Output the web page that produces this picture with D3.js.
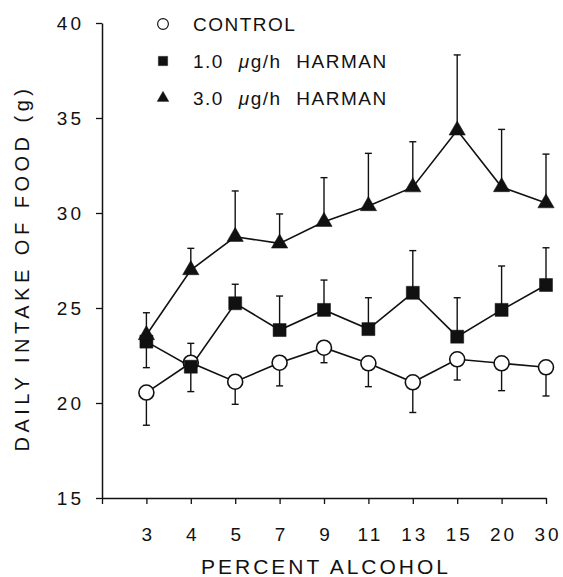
<!DOCTYPE html>
<html>
<head>
<meta charset="utf-8">
<script src="https://cdn.jsdelivr.net/npm/d3@7"></script>
<style>
  body { margin: 0; background: #fff; }
  svg { font-family: "Liberation Sans", "DejaVu Sans", sans-serif; }
</style>
</head>
<body>
<div id="chart"></div>
<script>
// percent alcohol groups (ordinal, evenly spaced)
const categories = ["3", "4", "5", "7", "9", "11", "13", "15", "20", "30"];
const yTicks = [15, 20, 25, 30, 35, 40];

// CONTROL
const controlMean = [20.55, 22.12, 21.12, 22.12, 22.91, 22.09, 21.09, 22.3, 22.09, 21.88];
const controlSE   = [1.72, 1.52, 1.19, 1.22, 0.79, 1.23, 1.59, 1.09, 1.44, 1.51];
const controlDir  = [-1, -1, -1, -1, -1, -1, -1, -1, -1, -1];

// 1.0 ug/h HARMAN
const harman1Mean = [23.23, 21.91, 25.25, 23.84, 24.9, 23.89, 25.8, 23.49, 24.9, 26.21];
const harman1SE   = [1.37, 1.23, 1.0, 1.79, 1.57, 1.65, 2.22, 2.05, 2.31, 1.96];
const harman1Dir  = [-1, 1, 1, 1, 1, 1, 1, 1, 1, 1];

// 3.0 ug/h HARMAN
const harman3Mean = [23.58, 27.0, 28.75, 28.4, 29.54, 30.37, 31.36, 34.35, 31.37, 30.52];
const harman3SE   = [1.17, 1.14, 2.41, 1.55, 2.32, 2.77, 2.39, 3.97, 3.03, 2.58];
const harman3Dir  = [1, 1, 1, 1, 1, 1, 1, 1, 1, 1];

const width = 563, height = 577;

const svg = d3.select("#chart")
    .append("svg")
    .attr("width", width)
    .attr("height", height);

// index 0 is the empty slot at the y axis
const x = d3.scaleLinear().domain([0, categories.length]).range([102, 546]);
const y = d3.scaleLinear().domain([15, 40]).range([498, 23]);

const axisColor = "#111";

// x axis
const xAxis = svg.append("g")
    .attr("transform", `translate(0,${y(15)})`)
    .call(d3.axisBottom(x)
        .tickValues(d3.range(0, categories.length + 1))
        .tickFormat(i => i ? categories[i - 1] : "")
        .tickSize(6)
        .tickSizeOuter(0)
        .tickPadding(24));
xAxis.select(".domain").attr("stroke", axisColor).attr("stroke-width", 1.5);
xAxis.selectAll(".tick line").attr("stroke", axisColor).attr("stroke-width", 1.3);
xAxis.selectAll(".tick text")
    .attr("fill", "#111")
    .attr("dx", "1.5px")
    .style("font-size", "19px")
    .style("letter-spacing", "3px");

// y axis
const yAxis = svg.append("g")
    .attr("transform", `translate(${x(0)},0)`)
    .call(d3.axisLeft(y)
        .tickValues(yTicks)
        .tickSize(6)
        .tickSizeOuter(0)
        .tickPadding(12));
yAxis.select(".domain").attr("stroke", axisColor).attr("stroke-width", 1.5);
yAxis.selectAll(".tick line").attr("stroke", axisColor).attr("stroke-width", 1.3);
yAxis.selectAll(".tick text")
    .attr("fill", "#111")
    .style("font-size", "19px")
    .style("letter-spacing", "3px");

// axis titles
svg.append("text")
    .attr("x", 326)
    .attr("y", 574)
    .attr("text-anchor", "middle")
    .attr("fill", "#111")
    .style("font-size", "21px")
    .style("letter-spacing", "3px")
    .text("PERCENT ALCOHOL");

svg.append("text")
    .attr("transform", "translate(29,268) rotate(-90)")
    .attr("text-anchor", "middle")
    .attr("fill", "#111")
    .style("font-size", "20px")
    .style("letter-spacing", "4.5px")
    .text("DAILY INTAKE OF FOOD (g)");

const series = [
    { mean: controlMean, se: controlSE, dir: controlDir, shape: "circle" },
    { mean: harman1Mean, se: harman1SE, dir: harman1Dir, shape: "square" },
    { mean: harman3Mean, se: harman3SE, dir: harman3Dir, shape: "triangle" }
];

const line = d3.line()
    .x((d, i) => x(i + 1))
    .y(d => y(d));

// connecting lines
svg.append("g")
    .selectAll("path")
    .data(series)
    .join("path")
    .attr("d", s => line(s.mean))
    .attr("fill", "none")
    .attr("stroke", "#111")
    .attr("stroke-width", 1.6);

// error bars
series.forEach(s => {
    const bars = s.mean.map((m, i) => ({ i: i, m: m, end: m + s.dir[i] * s.se[i] }));
    const g = svg.append("g").attr("stroke", "#111").attr("stroke-width", 1.4);
    g.selectAll(".stem")
        .data(bars)
        .join("line")
        .attr("x1", d => x(d.i + 1))
        .attr("x2", d => x(d.i + 1))
        .attr("y1", d => y(d.m))
        .attr("y2", d => y(d.end));
    g.selectAll(".cap")
        .data(bars)
        .join("line")
        .attr("class", "cap")
        .attr("x1", d => x(d.i + 1) - 3.5)
        .attr("x2", d => x(d.i + 1) + 3.5)
        .attr("y1", d => y(d.end))
        .attr("y2", d => y(d.end));
});

const symbolFor = {
    circle: d3.symbol().type(d3.symbolCircle).size(Math.PI * 7.5 * 7.5),
    square: d3.symbol().type(d3.symbolSquare).size(13 * 13),
    triangle: d3.symbol().type(d3.symbolTriangle).size(115)
};

function drawMarker(sel, shape) {
    sel.attr("d", symbolFor[shape]())
        .attr("fill", shape === "circle" ? "#fff" : "#111")
        .attr("stroke", "#111")
        .attr("stroke-width", shape === "circle" ? 1.6 : 0.5);
}

// markers
series.forEach(s => {
    svg.append("g")
        .selectAll("path")
        .data(s.mean)
        .join("path")
        .attr("transform", (d, i) => `translate(${x(i + 1)},${y(d)})`)
        .call(drawMarker, s.shape);
});

// legend
const legendItems = [
    { shape: "circle", parts: [["CONTROL", false]] },
    { shape: "square", parts: [["1.0 ", false], ["\u03bc", true], ["g/h HARMAN", false]] },
    { shape: "triangle", parts: [["3.0 ", false], ["\u03bc", true], ["g/h HARMAN", false]] }
];

const legend = svg.append("g");
legendItems.forEach((item, k) => {
    const ly = 24 + k * 37;
    legend.append("path")
        .call(drawMarker, item.shape)
        .attr("transform", `translate(163,${ly}) scale(0.72)`);
    const t = legend.append("text")
        .attr("x", 193)
        .attr("y", ly)
        .attr("dy", "0.36em")
        .attr("fill", "#111")
        .style("font-size", "19px")
        .style("letter-spacing", "1.5px")
        .style("word-spacing", "8px");
    item.parts.forEach(p => {
        t.append("tspan")
            .style("font-style", p[1] ? "italic" : "normal")
            .text(p[0]);
    });
});
</script>
</body>
</html>
